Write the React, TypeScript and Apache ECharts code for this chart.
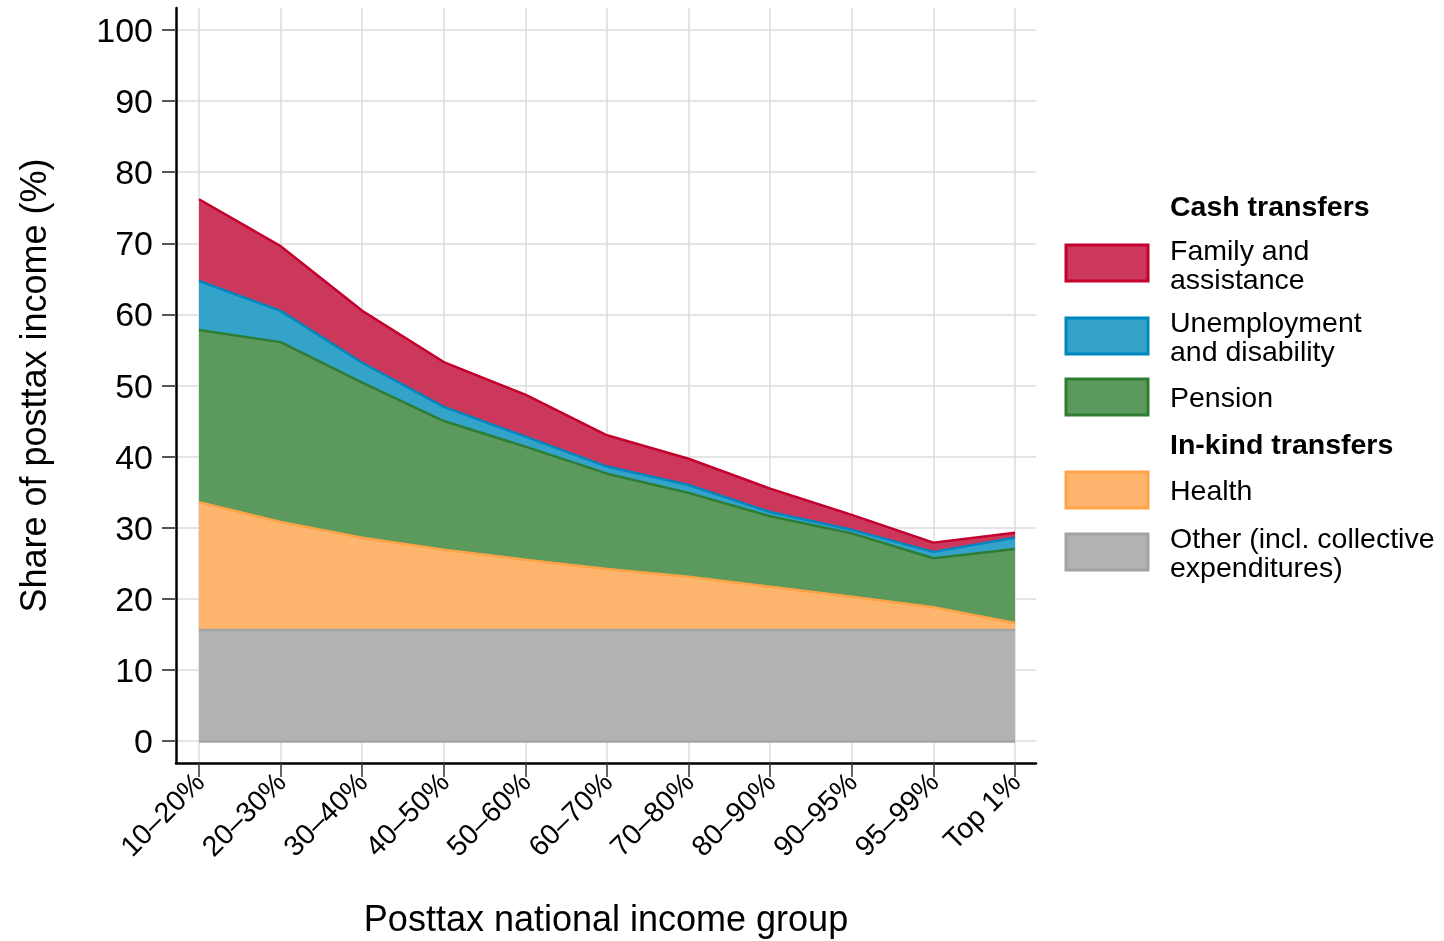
import React, { useEffect, useRef } from "react";
import * as echarts from "echarts";

const categories = ["10–20%", "20–30%", "30–40%", "40–50%", "50–60%", "60–70%", "70–80%", "80–90%", "90–95%", "95–99%", "Top 1%"];
const other = [15.6, 15.6, 15.6, 15.6, 15.6, 15.6, 15.6, 15.6, 15.6, 15.6, 15.6];
const health = [18.0, 15.2, 13.0, 11.3, 9.9, 8.6, 7.5, 6.1, 4.7, 3.2, 1.0];
const pension = [24.2, 25.3, 21.8, 18.1, 15.9, 13.4, 11.8, 9.9, 8.9, 6.9, 10.4];
const unemployment = [6.9, 4.4, 2.8, 2.0, 1.4, 1.0, 1.1, 0.6, 0.5, 0.9, 1.6];
const family = [11.5, 9.1, 7.3, 6.3, 5.9, 4.4, 3.7, 3.3, 2.1, 1.3, 0.7];
const yTicks = [0, 10, 20, 30, 40, 50, 60, 70, 80, 90, 100];

const FONT = "'Liberation Sans', Arial, Helvetica, sans-serif";

const seriesDefs = [
  { name: "Other (incl. collective expenditures)", data: other, fill: "#B3B3B3", stroke: "#A3A3A3" },
  { name: "Health", data: health, fill: "#FDB56E", stroke: "#FFA347" },
  { name: "Pension", data: pension, fill: "#5C995D", stroke: "#2E7D32" },
  { name: "Unemployment and disability", data: unemployment, fill: "#33A3C9", stroke: "#0086BE" },
  { name: "Family and assistance", data: family, fill: "#CC385C", stroke: "#C4002F" },
];

export default function App() {
  const ref = useRef<HTMLDivElement>(null);
  useEffect(() => {
    if (!ref.current) return;
    const chart = echarts.init(ref.current, undefined, { renderer: "svg" });
    const xIdx = categories.map((_, i) => i);

    const legendItems: any[] = [];
    const txt = (text: string, y: number, bold = false) => ({
      type: "text",
      left: 1170,
      top: y,
      style: { text, font: `${bold ? "bold " : ""}28.5px ${FONT}`, fill: "#000", lineHeight: 29 },
    });
    const sw = (y: number, fill: string, stroke: string) => ({
      type: "rect",
      shape: { x: 1066, y, width: 82, height: 36 },
      style: { fill, stroke, lineWidth: 3 },
    });
    legendItems.push(txt("Cash transfers", 191, true));
    legendItems.push(sw(245, "#CC385C", "#C4002F"));
    legendItems.push(txt("Family and\nassistance", 235));
    legendItems.push(sw(318, "#33A3C9", "#0086BE"));
    legendItems.push(txt("Unemployment\nand disability", 307));
    legendItems.push(sw(379, "#5C995D", "#2E7D32"));
    legendItems.push(txt("Pension", 382));
    legendItems.push(txt("In-kind transfers", 429, true));
    legendItems.push(sw(472, "#FDB56E", "#FFA347"));
    legendItems.push(txt("Health", 475));
    legendItems.push(sw(534, "#B3B3B3", "#A3A3A3"));
    legendItems.push(txt("Other (incl. collective\nexpenditures)", 523));

    chart.setOption({
      animation: false,
      textStyle: { fontFamily: FONT },
      grid: [
        // frame grid: axes, ticks, labels, gridlines
        { left: 176, right: 408, top: 8, bottom: 178, containLabel: false },
        // data grid: 0..100 and first..last category
        { left: 199, right: 429, top: 30, bottom: 200, containLabel: false },
      ],
      xAxis: [
        {
          gridIndex: 0,
          type: "value",
          min: -0.2819,
          max: 10.2574,
          name: "Posttax national income group",
          nameLocation: "middle",
          nameGap: 137,
          nameTextStyle: { fontSize: 36, color: "#000", fontFamily: FONT },
          axisLine: { show: true, onZero: false, lineStyle: { color: "#000", width: 2.5 } },
          axisTick: { show: true, customValues: xIdx, length: 14, lineStyle: { color: "#333", width: 1.5 } },
          axisLabel: {
            customValues: xIdx,
            rotate: 45,
            margin: 14,
            fontSize: 28.5,
            color: "#000",
            fontFamily: FONT,
            formatter: (v: number) => categories[Math.round(v)] ?? "",
          },
          splitLine: { show: true, lineStyle: { color: "#DCDCDC", width: 1.5 } },
        },
        {
          gridIndex: 1,
          type: "category",
          data: categories,
          boundaryGap: false,
          show: false,
        },
      ],
      yAxis: [
        {
          gridIndex: 0,
          type: "value",
          min: -3.094,
          max: 103.094,
          name: "Share of posttax income (%)",
          nameLocation: "middle",
          nameRotate: 90,
          nameGap: 125,
          nameTextStyle: { fontSize: 36, color: "#000", fontFamily: FONT },
          axisLine: { show: true, onZero: false, lineStyle: { color: "#000", width: 2.5 } },
          axisTick: { show: true, customValues: yTicks, length: 14, lineStyle: { color: "#555", width: 2 } },
          axisLabel: { customValues: yTicks, margin: 23, fontSize: 34, color: "#000", fontFamily: FONT },
          splitLine: { show: true, lineStyle: { color: "#DCDCDC", width: 1.5 } },
        },
        {
          gridIndex: 1,
          type: "value",
          min: 0,
          max: 100,
          show: false,
          splitLine: { show: false },
        },
      ],
      series: seriesDefs.map((s, k) => ({
        name: s.name,
        type: "line",
        xAxisIndex: 1,
        yAxisIndex: 1,
        stack: "total",
        showSymbol: false,
        symbol: "none",
        data: s.data,
        lineStyle: { color: s.stroke, width: 2.5 },
        itemStyle: { color: s.fill },
        areaStyle: { color: s.fill, opacity: 1 },
        ...(k === 0
          ? {
              markLine: {
                silent: true,
                symbol: "none",
                label: { show: false },
                lineStyle: { color: s.stroke, width: 2.5, type: "solid" },
                data: [{ yAxis: 0 }],
              },
            }
          : {}),
      })),
      graphic: legendItems,
    });
    return () => chart.dispose();
  }, []);
  return <div ref={ref} style={{ position: "fixed", left: 0, top: 0, width: 1444, height: 941 }} />;
}
